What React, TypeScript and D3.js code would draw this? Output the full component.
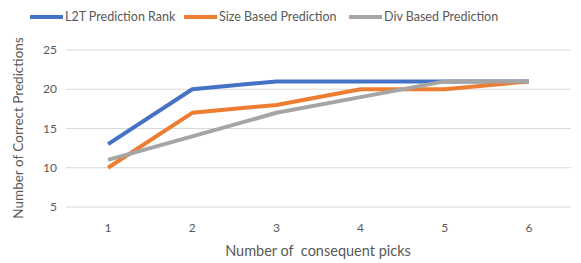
import React, { useEffect, useRef } from "react";
import * as d3 from "d3";

// Correct predictions per number of consequent picks
const PICKS = [1, 2, 3, 4, 5, 6];
const L2T = [13, 20, 21, 21, 21, 21];
const SIZE_BASED = [10, 17, 18, 20, 20, 21];
const DIV_BASED = [11, 14, 17, 19, 21, 21];
const Y_TICKS = [5, 10, 15, 20, 25];

const SERIES = [
  { name: "L2T Prediction Rank", values: L2T, color: "#4472C4" },
  { name: "Size Based Prediction", values: SIZE_BASED, color: "#ED7D31" },
  { name: "Div Based Prediction", values: DIV_BASED, color: "#A5A5A5" },
];

export default function App() {
  const svgRef = useRef<SVGSVGElement>(null);

  useEffect(() => {
    const width = 581;
    const height = 263;
    const font = "Lato, 'Open Sans', sans-serif";
    const textColor = "#595959";
    const gridColor = "#D9D9D9";

    const svg = d3.select(svgRef.current);
    svg.selectAll("*").remove();
    svg.attr("width", width).attr("height", height);

    const left = 66, right = 571, top = 50, bottom = 207;

    const x = d3.scalePoint<number>()
      .domain(PICKS)
      .range([left, right])
      .padding(0.5);

    const y = d3.scaleLinear().domain([5, 25]).range([bottom, top]);

    // Grid lines
    svg.append("g")
      .selectAll("line")
      .data(Y_TICKS)
      .join("line")
      .attr("x1", left).attr("x2", right)
      .attr("y1", d => y(d)).attr("y2", d => y(d))
      .attr("stroke", gridColor).attr("stroke-width", 1);

    // Y tick labels
    svg.append("g")
      .selectAll("text")
      .data(Y_TICKS)
      .join("text")
      .attr("x", left - 9)
      .attr("y", d => y(d))
      .attr("dy", "0.35em")
      .attr("text-anchor", "end")
      .attr("fill", textColor)
      .style("font-family", font).style("font-size", "12px")
      .text(d => d);

    // X tick labels
    svg.append("g")
      .selectAll("text")
      .data(PICKS)
      .join("text")
      .attr("x", d => x(d)!)
      .attr("y", 228)
      .attr("dy", "0.35em")
      .attr("text-anchor", "middle")
      .attr("fill", textColor)
      .style("font-family", font).style("font-size", "12px")
      .text(d => d);

    // Axis titles
    svg.append("text")
      .attr("x", 318).attr("y", 251)
      .attr("dy", "0.35em")
      .attr("text-anchor", "middle")
      .attr("fill", textColor)
      .style("font-family", font).style("font-size", "14.5px")
      .style("white-space", "pre")
      .text("Number of  consequent picks");

    svg.append("text")
      .attr("transform", "translate(18,128) rotate(-90)")
      .attr("dy", "0.35em")
      .attr("text-anchor", "middle")
      .attr("fill", textColor)
      .style("font-family", font).style("font-size", "13.5px")
      .text("Number of Correct Predictions");

    // Lines
    const line = d3.line<number>()
      .x((_, i) => x(PICKS[i])!)
      .y(d => y(d));

    SERIES.forEach(s => {
      svg.append("path")
        .datum(s.values)
        .attr("d", line)
        .attr("fill", "none")
        .attr("stroke", s.color)
        .attr("stroke-width", 4)
        .attr("stroke-linejoin", "round");
    });

    // Legend
    const legendX = [30, 184, 349];
    const legend = svg.append("g");
    SERIES.forEach((s, i) => {
      legend.append("line")
        .attr("x1", legendX[i]).attr("x2", legendX[i] + 33)
        .attr("y1", 17).attr("y2", 17)
        .attr("stroke", s.color).attr("stroke-width", 4);
      legend.append("text")
        .attr("x", legendX[i] + 35).attr("y", 17)
        .attr("dy", "0.35em")
        .attr("fill", textColor)
        .style("font-family", font).style("font-size", "12.5px")
        .text(s.name);
    });
  }, []);

  return (
    <div style={{ position: "absolute", left: 0, top: 0, background: "#fff" }}>
      <svg ref={svgRef} style={{ display: "block" }} />
    </div>
  );
}
